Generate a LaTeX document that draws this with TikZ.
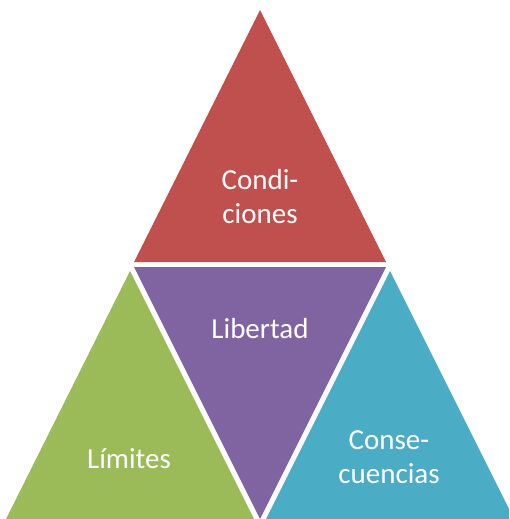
\documentclass[tikz,border=0pt]{standalone}
\usepackage{fontspec}
\setmainfont{Carlito}
\definecolor{cred}{HTML}{C0504D}
\definecolor{cpurple}{HTML}{8064A2}
\definecolor{cgreen}{HTML}{9BBB59}
\definecolor{cblue}{HTML}{4BACC6}
\begin{document}
\begin{tikzpicture}[x=1pt,y=-1pt,
  lbl/.style={text=white,align=center,font=\fontsize{29}{34}\selectfont,inner sep=0pt,anchor=base}]
\useasboundingbox (0,0) rectangle (509,519);
\clip (0,0) rectangle (509,519);
\fill[cred] (260,10) -- (386,262) -- (134,262) -- cycle;
\fill[cpurple] (134,267) -- (386,267) -- (260,519) -- cycle;
\fill[cgreen] (130,271) -- (255,521) -- (5,521) -- cycle;
\fill[cblue] (390,271) -- (515,521) -- (265,521) -- cycle;
\node[lbl] (cond) at (260,223) {Condi-\\ciones};
\node[lbl] (lib) at (260,338) {Libertad};
\node[lbl] (lim) at (129,468) {Límites};
\node[lbl] (cons) at (389,483) {Conse-\\cuencias};
\end{tikzpicture}
\end{document}
